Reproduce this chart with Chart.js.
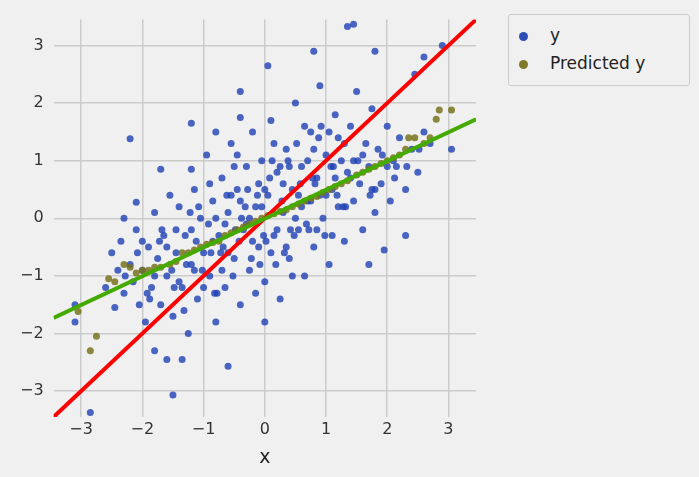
<!DOCTYPE html>
<html>
<head>
<meta charset="utf-8">
<script src="https://cdn.jsdelivr.net/npm/chart.js@4/dist/chart.umd.min.js"></script>
<style>
  body { margin: 0; background: #f0f0f0; font-family: "DejaVu Sans", sans-serif; }
  #wrap { position: relative; width: 699px; height: 477px; }
  #legend { position: absolute; left: 508px; top: 14px; width: 180px; height: 70px; border: 1px solid #cccccc;
            border-radius: 3px; background: #f0f0f0; font-size: 17px; color: #222; }
  .item { position: absolute; left: 10px; }
  .dot { display: inline-block; width: 9px; height: 9px; border-radius: 50%; margin-right: 22px; vertical-align: middle; }
</style>
</head>
<body>
<div id="wrap">
  <canvas id="chart" width="699" height="477"></canvas>
  <div id="legend">
    <div class="item" style="top:10px"><span class="dot" style="background:#2d4fb5"></span>y</div>
    <div class="item" style="top:38px"><span class="dot" style="background:#7f7a2a"></span>Predicted y</div>
  </div>
</div>
<script>
const yX = [-2.85,-1.5,-3.1,-3.1,-2.2,-2.1,1.35,1.45,2.9,3.05,2.6,2.45,1.8,0.8,0.05,-0.4,-0.6,0.0,-1.8,-1.6,-1.35,2.3,1.95,1.7,-2.3,-1.7,-1.2,-1.2,-0.8,-0.4,
  -2.6,-2.5,-2.45,-2.4,-2.35,-2.3,-2.2,-2.15,-2.1,-2.05,-2.0,-1.95,-1.9,-1.85,-1.8,-1.75,-1.7,-1.65,-1.6,-1.55,-1.5,-1.45,-1.4,-1.35,-1.3,-1.25,-1.2,-1.15,-1.1,-1.05,
  -1.0,-0.95,-0.9,-0.85,-0.8,-0.75,-0.7,-0.65,-0.6,-0.55,-0.5,-0.45,-0.4,-0.35,-0.3,-0.25,-0.2,-0.15,-0.1,-0.05,0.0,0.05,0.1,0.15,0.2,0.25,0.3,0.35,0.4,0.45,
  0.5,0.55,0.6,0.65,0.7,0.75,0.8,0.85,0.9,0.95,1.0,1.05,1.1,1.15,1.2,1.25,1.3,1.35,1.4,1.45,1.5,1.55,1.6,1.65,1.7,1.75,1.8,1.85,1.9,2.0,2.05,2.1,2.2,2.3,2.4,2.5,2.6,2.7,
  -2.0,-1.8,-1.6,-1.4,-1.2,-1.0,-0.8,-0.6,-0.4,-0.2,0.0,0.2,0.4,0.6,0.8,1.0,1.2,1.4,1.6,1.8,2.0,-0.9,-0.7,-0.5,-0.3,-0.1,0.1,0.3,0.5,0.7,0.9,1.1,1.3,0.15,-0.15,0.45,-0.45,0.65,-0.65,
  -0.05,0.25,0.55,0.85,1.15,-0.25,-0.55,-0.85,0.35,0.75,1.05,1.45,1.75,2.15,-1.15,-1.45,
  -0.02,0.08,0.18,0.28,0.38,0.48,0.58,0.68,0.78,0.88,0.98,1.08,1.18,1.28,-0.12,-0.22,-0.32,-0.42,-0.52,-0.62,-0.72,-0.82,-0.92,-1.02,-1.12,-1.22,-1.32,-1.52,-1.72,-1.92,
  0.12,0.32,0.52,0.72,0.92,1.12,1.32,1.52,1.72,1.92,-0.08,-0.28,-0.48,-0.68,-0.88,-1.08,-1.28,-1.48,-1.68,-1.88,-2.08,-2.28,2.12,2.32,2.52,0.02,0.42,0.82,-0.38,-0.78];
const yY = [-3.37,-3.07,-1.8,-1.5,1.38,0.28,3.33,3.37,3.0,1.2,2.8,2.5,2.9,2.9,2.65,2.2,-2.57,-1.8,-2.3,-2.45,-2.45,-0.3,-0.55,-0.8,0.0,0.85,0.85,1.65,1.5,1.75,
  -1.2,-0.6,-1.55,-0.9,-0.4,-1.3,-0.8,-1.1,-0.2,-1.5,-0.9,-1.8,-0.5,-1.2,0.1,-0.7,-1.5,-0.3,-1.0,0.4,-1.7,-0.6,0.2,-1.2,-0.3,-2.0,-0.8,0.5,-1.4,0.0,
  -0.6,1.1,-1.0,0.3,-1.8,-0.3,0.7,-1.2,0.1,1.3,-0.7,0.5,-1.5,-0.2,0.9,-0.9,1.5,0.2,-0.5,1.0,-1.1,0.4,1.7,-0.3,0.8,-1.4,0.1,1.2,-0.7,0.5,
  2.0,-0.2,0.9,-1.0,0.3,1.5,-0.5,0.7,2.3,0.0,1.1,-0.8,0.5,1.8,0.2,1.0,-0.4,0.8,1.6,0.3,2.2,0.6,-0.2,1.3,0.9,1.9,0.1,1.2,0.6,1.6,0.3,1.0,1.4,0.5,1.2,0.8,1.5,1.3,
  -0.4,-1.0,-0.5,-1.1,-0.2,-1.2,0.0,-0.6,0.3,-0.4,0.5,-0.2,0.9,0.2,1.2,0.4,1.4,0.7,1.1,0.5,0.9,0.6,-0.9,0.9,-0.1,0.6,-0.6,0.6,0.0,1.0,0.4,-0.3,1.3,1.3,-1.3,-1.0,1.1,1.6,-0.1,
  0.2,0.9,0.4,-0.2,0.7,0.0,0.4,-0.4,-0.5,0.3,1.5,1.0,0.5,0.9,-0.9,-0.2,
  -0.3,0.7,-0.8,0.3,1.0,-0.3,0.6,-0.1,0.7,1.4,-0.3,0.9,0.4,0.2,0.4,-0.7,0.2,-0.4,-1.0,0.4,-0.6,-1.3,-0.1,-0.9,-0.4,0.1,-1.6,-0.9,-0.4,-1.3,
  1.0,-0.6,1.3,-0.2,1.6,0.9,0.2,1.0,0.4,1.1,-0.8,0.5,-0.2,-0.5,-0.6,0.2,-0.8,-1.2,-0.2,-1.4,-0.6,-1.0,0.7,0.9,1.2,-0.4,-0.2,0.6,0.0,-1.3];
const predX = [-3.05,-2.85,-2.75,-2.55,-2.45,-2.3,-2.2,-2.1,-2.0,-1.9,-1.8,-1.7,-1.55,-1.45,-1.35,-1.25,-1.15,-1.05,-0.95,-0.85,-0.75,-0.65,-0.55,-0.45,-0.35,-0.25,
  -0.15,-0.05,0.05,0.15,0.25,0.35,0.45,0.55,0.65,0.75,0.85,0.95,1.05,1.15,1.25,1.35,1.5,1.6,1.7,1.8,1.9,2.0,2.1,2.2,2.3,2.35,2.45,2.6,2.7,2.8,2.85,3.05];
const predY = [-1.62,-2.3,-2.05,-1.05,-1.1,-0.8,-0.85,-0.95,-0.9,-0.9,-0.85,-0.85,-0.8,-0.75,-0.6,-0.6,-0.55,-0.5,-0.45,-0.42,-0.4,-0.3,-0.25,-0.2,-0.15,-0.1,
  -0.05,0.0,0.05,0.08,0.12,0.15,0.2,0.25,0.3,0.35,0.38,0.45,0.5,0.55,0.6,0.65,0.75,0.8,0.85,0.9,0.95,1.0,1.05,1.1,1.2,1.4,1.4,1.3,1.4,1.72,1.88,1.88];
const tickValues = [-3, -2, -1, 0, 1, 2, 3];
const lineX = [-3.45, 3.45];
const redY = [-3.45, 3.45];
const greenY = [-1.73, 1.72];

const pts = (xs, ys) => xs.map((x, i) => ({x: x, y: ys[i]}));
const tickFont = {family: "DejaVu Sans", size: 16};
const fixTicks = axis => { axis.ticks = tickValues.map(v => ({value: v})); };
const fmt = v => String(v).replace('-', '−');

new Chart(document.getElementById('chart'), {
    type: 'scatter',
    data: {
        datasets: [
            {label: 'y', data: pts(yX, yY), backgroundColor: 'rgba(30,65,180,0.8)', borderWidth: 0, pointRadius: 3.5, order: 3},
            {label: 'Predicted y', data: pts(predX, predY), backgroundColor: 'rgba(120,115,30,0.85)', borderWidth: 0, pointRadius: 3.5, order: 2},
            {type: 'line', data: pts(lineX, redY), borderColor: '#ff0000', borderWidth: 4, pointRadius: 0, order: 1},
            {type: 'line', data: pts(lineX, greenY), borderColor: '#44aa00', borderWidth: 4, pointRadius: 0, order: 0}
        ]
    },
    options: {
        responsive: false,
        animation: false,
        layout: {padding: {left: 10, right: 223, top: 10, bottom: 4}},
        plugins: {legend: {display: false}, tooltip: {enabled: false}},
        scales: {
            x: {
                type: 'linear', min: -3.45, max: 3.45,
                afterBuildTicks: fixTicks,
                ticks: {font: tickFont, color: '#333', callback: fmt},
                grid: {color: '#cbcbcb', lineWidth: 1.5, drawTicks: false},
                border: {display: false},
                title: {display: true, text: 'x', font: {family: "DejaVu Sans", size: 19}, color: '#222', padding: {top: 4}}
            },
            y: {
                type: 'linear', min: -3.45, max: 3.45,
                afterBuildTicks: fixTicks,
                ticks: {font: tickFont, color: '#333', padding: 10, callback: fmt},
                grid: {color: '#cbcbcb', lineWidth: 1.5, drawTicks: false},
                border: {display: false}
            }
        }
    }
});
</script>
</body>
</html>
